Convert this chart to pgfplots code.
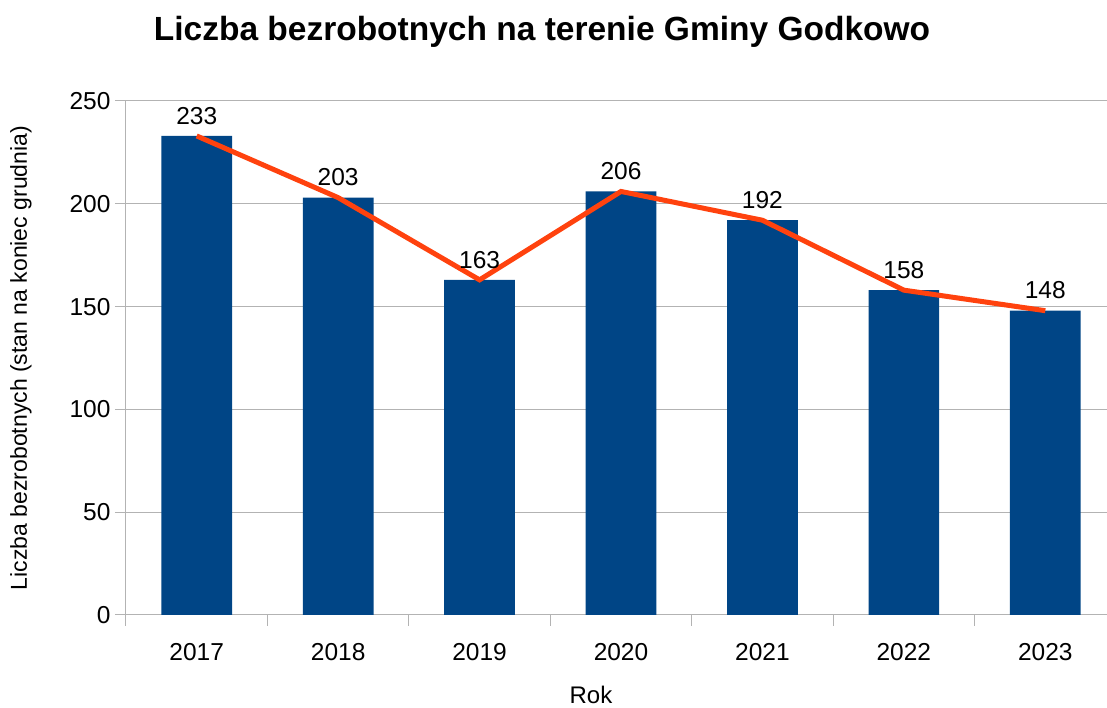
\documentclass[border=0pt]{standalone}
\usepackage{pgfplots}
\pgfplotsset{compat=1.18}
\usepackage{fontspec}
\setmainfont{Liberation Sans}
\definecolor{barblue}{HTML}{004586}
\definecolor{lineorange}{HTML}{FF420E}
\definecolor{gridgray}{HTML}{B3B3B3}
\begin{document}
\begin{tikzpicture}[x=1pt,y=1pt]
\useasboundingbox (-126,-93) rectangle (981,615);
\begin{scope}
\clip (-126,-93) rectangle (981,615);
\begin{axis}[
  at={(0,0)}, anchor=south west,
  scale only axis, width=990pt, height=514pt,
  xmin=-0.5, xmax=6.5, ymin=0, ymax=250,
  axis lines*=left,
  axis line style={gridgray, line width=1pt},
  xtick={0,1,2,3,4,5,6},
  xticklabels={2017,2018,2019,2020,2021,2022,2023},
  minor xtick={-0.5,0.5,1.5,2.5,3.5,4.5,5.5,6.5},
  ytick={0,50,100,150,200,250},
  ymajorgrids,
  grid style={gridgray, line width=1pt},
  major x tick style={draw=none},
  minor x tick style={gridgray, line width=1pt},
  major y tick style={gridgray, line width=1pt},
  tick align=outside,
  major tick length=11pt,
  minor tick length=11pt,
  every tick label/.style={font=\fontsize{24.5}{28}\selectfont, text=black},
  /pgf/number format/assume math mode=true,
  xticklabel style={yshift=-14pt},
  yticklabel style={xshift=-1pt},
  xlabel={Rok},
  ylabel={Liczba bezrobotnych (stan na koniec grudnia)},
  xlabel style={font=\fontsize{24}{28}\selectfont, yshift=-18pt, xshift=-30pt},
  ylabel style={font=\fontsize{23}{27}\selectfont, yshift=31pt, xshift=0pt},
  clip=false,
]
\addplot[ybar, bar width=0.5, fill=barblue, draw=none,
  nodes near coords,
  every node near coord/.style={font=\fontsize{24.5}{28}\selectfont, text=black, yshift=8pt}]
  coordinates {(0,233) (1,203) (2,163) (3,206) (4,192) (5,158) (6,148)};
\addplot[lineorange, line width=5pt, mark=none]
  coordinates {(0,233) (1,203) (2,163) (3,206) (4,192) (5,158) (6,148)};
\end{axis}
\end{scope}
\node[font=\bfseries\fontsize{33.5}{38}\selectfont] at (416,583) {Liczba bezrobotnych na terenie Gminy Godkowo};
\end{tikzpicture}
\end{document}
